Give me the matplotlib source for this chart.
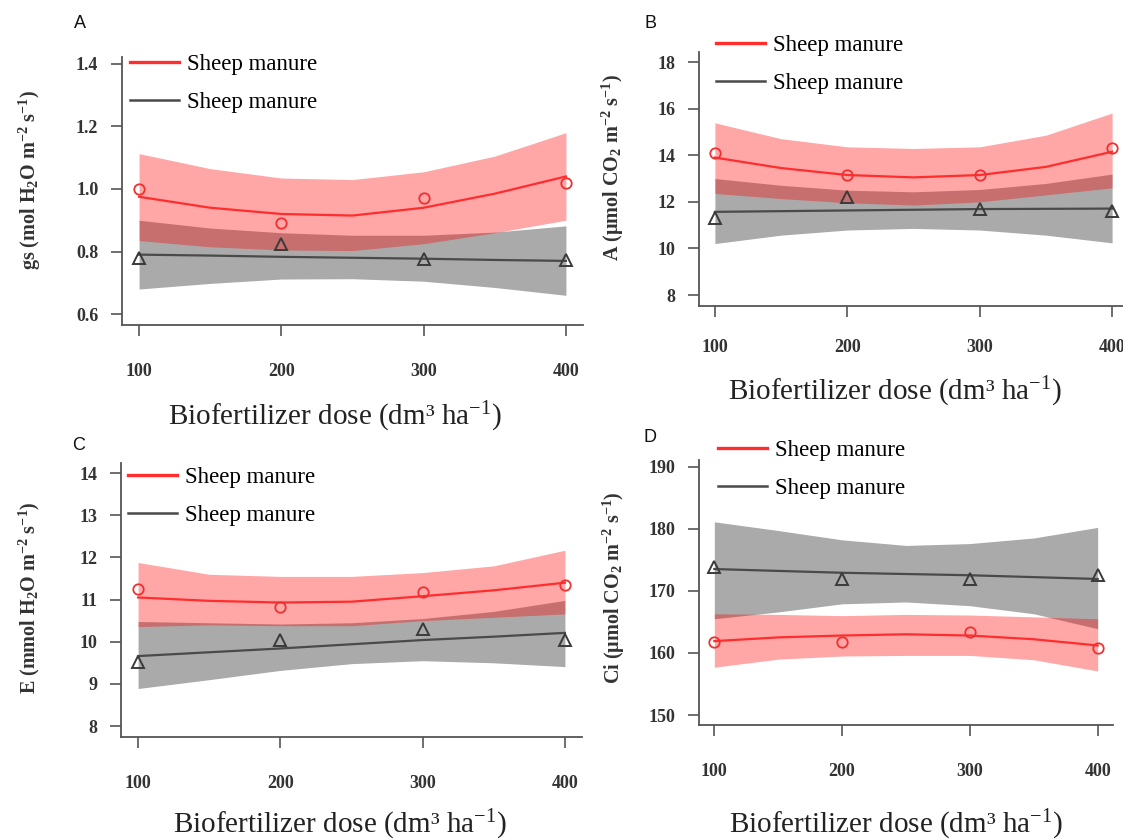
import matplotlib.pyplot as plt

plt.rcParams['font.family'] = ['Liberation Serif', 'DejaVu Serif']
plt.rcParams['mathtext.fontset'] = 'custom'
plt.rcParams['mathtext.rm'] = 'Liberation Serif'
plt.rcParams['mathtext.default'] = 'regular'

# doses with observed means, and the grid where the fitted curve / band were read
dose = [100, 200, 300, 400]
grid = [100, 150, 200, 250, 300, 350, 400]

# A - gs
gs_red_pts = [1.00, 0.89, 0.97, 1.02]
gs_gray_pts = [0.78, 0.823, 0.775, 0.772]
gs_red_fit = [0.975, 0.94, 0.92, 0.915, 0.94, 0.985, 1.04]
gs_red_lo = [0.835, 0.815, 0.805, 0.803, 0.825, 0.86, 0.90]
gs_red_hi = [1.113, 1.065, 1.035, 1.03, 1.055, 1.105, 1.18]
gs_gray_fit = [0.79, 0.787, 0.783, 0.78, 0.777, 0.773, 0.77]
gs_gray_lo = [0.68, 0.698, 0.712, 0.713, 0.705, 0.685, 0.66]
gs_gray_hi = [0.90, 0.875, 0.86, 0.852, 0.852, 0.862, 0.882]

# B - A
a_red_pts = [14.1, 13.15, 13.17, 14.33]
a_gray_pts = [11.3, 12.2, 11.7, 11.6]
a_red_fit = [13.9, 13.45, 13.15, 13.05, 13.15, 13.5, 14.15]
a_red_lo = [12.36, 12.14, 11.96, 11.86, 12.0, 12.3, 12.6]
a_red_hi = [15.39, 14.71, 14.36, 14.29, 14.36, 14.86, 15.81]
a_gray_fit = [11.57, 11.6, 11.63, 11.66, 11.69, 11.7, 11.71]
a_gray_lo = [10.21, 10.57, 10.79, 10.86, 10.79, 10.57, 10.24]
a_gray_hi = [13.0, 12.71, 12.5, 12.43, 12.53, 12.79, 13.19]

# C - E
e_red_pts = [11.24, 10.82, 11.17, 11.35]
e_gray_pts = [9.53, 10.04, 10.3, 10.05]
e_red_fit = [11.05, 10.97, 10.93, 10.95, 11.08, 11.22, 11.4]
e_red_lo = [10.36, 10.4, 10.38, 10.38, 10.5, 10.58, 10.66]
e_red_hi = [11.88, 11.6, 11.55, 11.55, 11.64, 11.8, 12.17]
e_gray_fit = [9.66, 9.75, 9.84, 9.94, 10.04, 10.12, 10.21]
e_gray_lo = [8.89, 9.1, 9.32, 9.48, 9.55, 9.5, 9.41]
e_gray_hi = [10.48, 10.45, 10.42, 10.45, 10.55, 10.72, 10.98]

# D - Ci
ci_red_pts = [161.7, 161.8, 163.4, 160.8]
ci_gray_pts = [173.9, 171.9, 171.9, 172.6]
ci_red_fit = [161.9, 162.5, 162.8, 163.0, 162.8, 162.2, 161.2]
ci_red_lo = [157.7, 159.0, 159.5, 159.6, 159.6, 158.9, 157.1]
ci_red_hi = [166.3, 166.2, 166.0, 166.2, 166.1, 165.8, 165.5]
ci_gray_fit = [173.5, 173.2, 172.9, 172.7, 172.5, 172.2, 171.9]
ci_gray_lo = [165.5, 166.6, 167.9, 168.2, 167.6, 166.3, 163.9]
ci_gray_hi = [181.1, 179.7, 178.2, 177.3, 177.6, 178.5, 180.2]

legend_label = 'Sheep manure'
xlabel = 'Biofertilizer dose (dm³ ha$^{-1}$)'

W, H = 1123, 840
fig = plt.figure(figsize=(W / 100, H / 100), dpi=100)


def px_box(l, t, r, b):
    return [l / W, 1 - b / H, (r - l) / W, (b - t) / H]


def panel(box, ylim, yticks, red_pts, gray_pts, red_fit, red_lo, red_hi,
          gray_fit, gray_lo, gray_hi, xpad, leg_xy):
    ax = fig.add_axes(px_box(*box))
    ax.fill_between(grid, gray_lo, gray_hi, color='#aaaaaa', lw=0)
    ax.fill_between(grid, red_lo, red_hi, color='red', alpha=0.35, lw=0)
    gl, = ax.plot(grid, gray_fit, color='#4a4a4a', lw=1.6)
    rl, = ax.plot(grid, red_fit, color='#ff2d2d', lw=1.6)
    ax.plot(dose, gray_pts, '^', mfc='none', mec='#3a3a3a', ms=9, mew=1.4)
    ax.plot(dose, red_pts, 'o', mfc='none', mec='#f03030', ms=7.5, mew=1.3)
    ax.set_xlim(88, 412)
    ax.set_ylim(*ylim)
    ax.set_xticks(dose)
    ax.set_yticks(yticks)
    for s in ['top', 'right']:
        ax.spines[s].set_visible(False)
    for s in ['left', 'bottom']:
        ax.spines[s].set_color('#555555')
        ax.spines[s].set_linewidth(1.3)
    ax.tick_params(axis='x', length=8, width=1.2, color='#555555', pad=xpad,
                   labelsize=13, labelcolor='#333333')
    ax.tick_params(axis='y', length=8, width=1.2, color='#555555', pad=9,
                   labelsize=13, labelcolor='#333333')
    for t in ax.get_xticklabels() + ax.get_yticklabels():
        t.set_fontweight('bold')
    leg = ax.legend([rl, gl], [legend_label, legend_label], loc='upper left',
                    bbox_to_anchor=(leg_xy[0] / W, 1 - leg_xy[1] / H),
                    bbox_transform=fig.transFigure, frameon=False, fontsize=16.5,
                    borderpad=0, borderaxespad=0, handlelength=2.15,
                    handletextpad=0.35, labelspacing=0.72)
    leg.get_lines()[0].set_linewidth(2.4)
    leg.get_lines()[1].set_linewidth(1.8)
    return ax


panel((122, 57, 583, 325), (0.565, 1.422), [0.6, 0.8, 1.0, 1.2, 1.4],
      gs_red_pts, gs_gray_pts, gs_red_fit, gs_red_lo, gs_red_hi,
      gs_gray_fit, gs_gray_lo, gs_gray_hi, 19, (130, 54))
panel((699, 52, 1128, 306), (7.53, 18.43), [8, 10, 12, 14, 16, 18],
      a_red_pts, a_gray_pts, a_red_fit, a_red_lo, a_red_hi,
      a_gray_fit, a_gray_lo, a_gray_hi, 16, (716, 35))
panel((121, 463, 582, 737), (7.74, 14.24), [8, 9, 10, 11, 12, 13, 14],
      e_red_pts, e_gray_pts, e_red_fit, e_red_lo, e_red_hi,
      e_gray_fit, e_gray_lo, e_gray_hi, 19, (128, 467))
panel((699, 460, 1113, 725), (148.4, 191.05), [150, 160, 170, 180, 190],
      ci_red_pts, ci_gray_pts, ci_red_fit, ci_red_lo, ci_red_hi,
      ci_gray_fit, ci_gray_lo, ci_gray_hi, 19, (718, 440))

# y axis titles
ylabels = [
    (30, 180, 'gs (mol H$_2$O m$^{-2}$ s$^{-1}$)'),
    (613, 168, 'A (μmol CO$_2$ m$^{-2}$ s$^{-1}$)'),
    (29, 598, 'E (mmol H$_2$O m$^{-2}$ s$^{-1}$)'),
    (614, 588, 'Ci (μmol CO$_2$ m$^{-2}$ s$^{-1}$)'),
]
for x, y, s in ylabels:
    fig.text(x / W, 1 - y / H, s, rotation=90, ha='center', va='center',
             fontsize=14.5, fontweight='bold', color='#333333')

# x axis titles
for x, y in [(335, 425), (895, 400), (340, 833), (896, 833)]:
    fig.text(x / W, 1 - y / H, xlabel, ha='center', va='baseline',
             fontsize=21, color='#222222')

# panel letters
for x, y, s in [(80, 23, 'A'), (650, 23, 'B'), (79, 445, 'C'), (650, 437, 'D')]:
    fig.text(x / W, 1 - y / H, s, ha='center', va='center', fontsize=13,
             family='Liberation Sans', color='#111111')

fig.savefig('out.png', dpi=100)
